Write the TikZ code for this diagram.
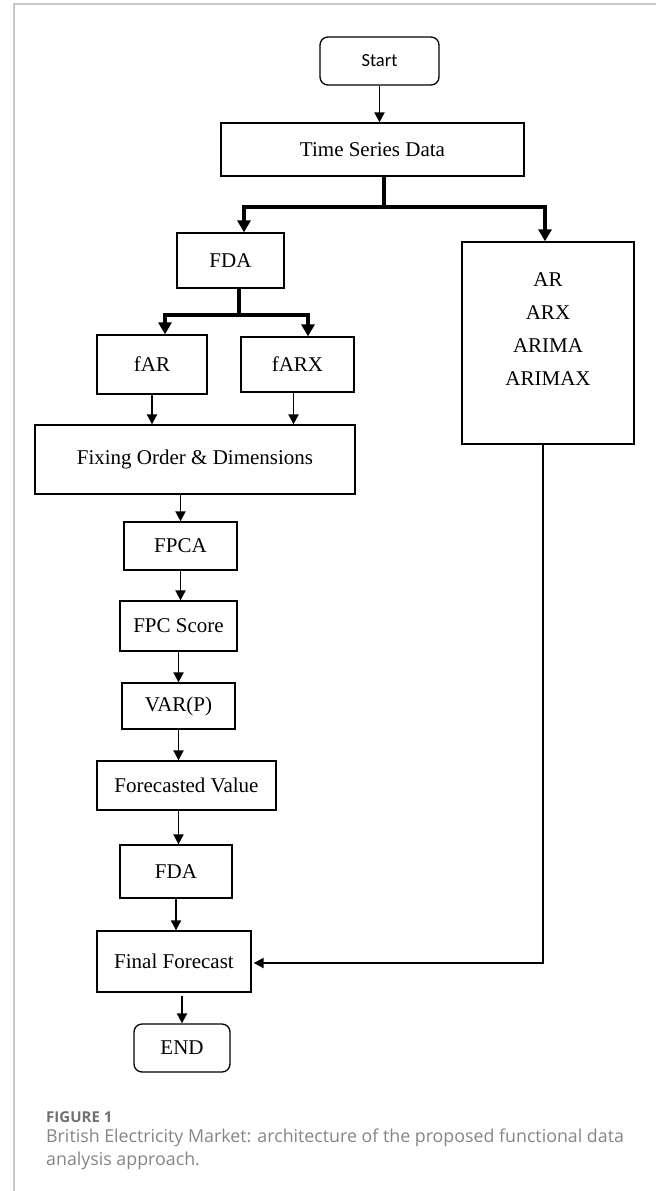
\documentclass[tikz,border=0pt]{standalone}
\usepackage{fontspec}
\setmainfont{Liberation Serif}
\newfontfamily\startfont{Carlito}
\newfontfamily\capfont{Open Sans}
\usepackage{tikz}
\usetikzlibrary{arrows.meta, positioning, calc}
\definecolor{framegray}{HTML}{C8C8C8}
\definecolor{capgray}{HTML}{858585}
\tikzset{stepbox/.style={rectangle,draw,line width=1.3pt,align=center,inner sep=0pt,font=\fontsize{21}{25}\selectfont},
         terminal/.style={stepbox,rounded corners=8pt},
         arrow/.style={-{Triangle[length=10pt,width=10pt]},line width=1.9pt},
         thickarrow/.style={-{Triangle[length=12pt,width=13pt]},line width=3.2pt},
         thickline/.style={line width=3.2pt},
         caption/.style={anchor=base west,inner sep=0pt,text=capgray,font=\capfont\fontsize{17.8}{22}\selectfont}}

\begin{document}
\begin{tikzpicture}[x=1pt,y=-1pt]
    \useasboundingbox (0,0) rectangle (656,1191);
    \draw[framegray,line width=1.2pt] (14,1191) -- (14,4) -- (656,4);
    % Boxes
    \node (start) at (379.5,61) [terminal,minimum width=119,minimum height=48,font=\startfont\fontsize{18.5}{22}\selectfont]{Start};
    \node (tsd) at (372.5,149.5) [stepbox,minimum width=303,minimum height=53]{Time Series Data};
    \node (fda) at (230.5,260.5) [stepbox,minimum width=107,minimum height=55]{FDA};
    \node (models) at (548,343) [stepbox,minimum width=172,minimum height=202]{};
    \node (modeltext) at (548,272) [anchor=north,inner sep=0pt,align=center,font=\fontsize{21}{33}\selectfont]{AR\\ARX\\ARIMA\\ARIMAX};
    \node (far) at (152,364.5) [stepbox,minimum width=110,minimum height=59]{fAR};
    \node (farx) at (297.5,364.5) [stepbox,minimum width=113,minimum height=55]{fARX};
    \node (fix) at (195,459.5) [stepbox,minimum width=320,minimum height=69]{Fixing Order \& Dimensions};
    \node (fpca) at (180.5,546) [stepbox,minimum width=113,minimum height=48]{FPCA};
    \node (fpc) at (178.5,626) [stepbox,minimum width=117,minimum height=50]{FPC Score};
    \node (var) at (178.5,706) [stepbox,minimum width=113,minimum height=46]{VAR(P)};
    \node (fval) at (186.5,785.5) [stepbox,minimum width=179,minimum height=49]{Forecasted Value};
    \node (fdb) at (176,871.5) [stepbox,minimum width=112,minimum height=53]{FDA};
    \node (final) at (174,961.5) [stepbox,minimum width=154,minimum height=61]{Final Forecast};
    \node (end) at (182,1048) [terminal,minimum width=96,minimum height=48]{END};
    % Branch points
    \coordinate (split) at (384,207);
    \coordinate (splitb) at (239,315);
    \coordinate (turn) at (543,963);
    % Connectors
    \draw[arrow] (start.south) -- (start.south |- tsd.north);
    \draw[thickline] (tsd.south -| split) -- (split);
    \draw[thickarrow] (split) -| ([xshift=13.5]fda.north);
    \draw[thickarrow] (split) -| ([xshift=-3]models.north);
    \draw[thickline] (fda.south -| splitb) -- (splitb);
    \draw[thickarrow] (splitb) -| ([xshift=13]far.north);
    \draw[thickarrow] (splitb) -| ([xshift=10.5]farx.north);
    \draw[arrow] (far.south) -- (far.south |- fix.north);
    \draw[arrow] ([xshift=-4]farx.south) -- ([xshift=-4]farx.south |- fix.north);
    \draw[arrow] (fix.south -| fpca) -- (fpca.north);
    \draw[arrow] (fpca.south) -- (fpca.south |- fpc.north);
    \draw[arrow] (fpc.south) -- (fpc.south |- var.north);
    \draw[arrow] (var.south) -- (var.south |- fval.north);
    \draw[arrow] (fval.south -| var) -- (var |- fdb.north);
    \draw[arrow] (fdb.south) -- (fdb.south |- final.north);
    \draw[arrow] ([yshift=-3]final.south -| end.north) -- (end.north);
    \draw[arrow] (models.south -| turn) -- (turn) -- ([xshift=2]final.east |- turn);
    % Caption
    \node (capnum) at (46,1122) [caption,text=capgray!85!black,font=\capfont\bfseries\fontsize{15}{18}\selectfont]{FIGURE 1};
    \node (capa) at (46,1142) [caption]{British Electricity Market: architecture of the proposed functional data};
    \node (capb) at (46,1165) [caption]{analysis approach.};
\end{tikzpicture}
\end{document}
